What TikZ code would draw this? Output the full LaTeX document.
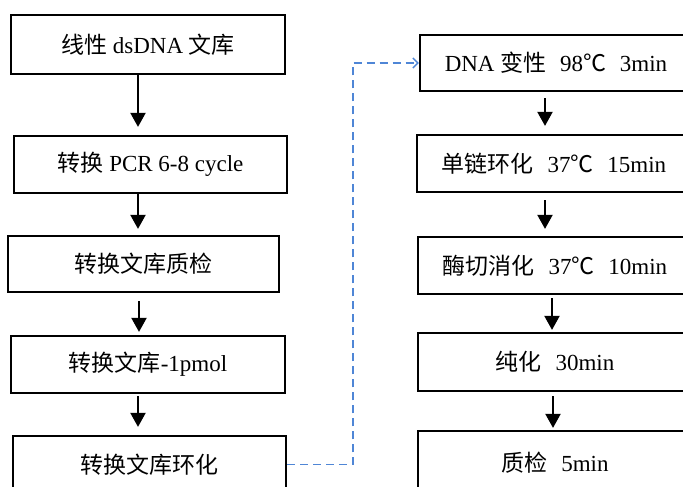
\documentclass[tikz,border=0pt]{standalone}
\usepackage{fontspec}
\setmainfont{Liberation Serif}
\newfontfamily\cjkfont{Noto Sans CJK SC}
\newcommand{\zh}[1]{{\cjkfont #1}}
\usetikzlibrary{arrows.meta}
\definecolor{linkblue}{RGB}{79,134,214}
\tikzset{
  stepbox/.style={draw=black, line width=2.2pt, inner sep=0pt, align=center,
    font=\fontsize{23}{27}\selectfont},
  flow/.style={line width=2pt, -{Triangle[length=14pt,width=15pt]}},
  link/.style={draw=linkblue, line width=1.5pt, dash pattern=on 8pt off 5pt,
    -{Straight Barb[length=5pt,width=10pt]}},
}
\newcommand{\gap}{\hspace{0.6em}}
\begin{document}
\begin{tikzpicture}[x=1pt,y=-1pt]
\useasboundingbox (0,0) rectangle (683,487);
\clip (0,0) rectangle (683,487);

% left column
\node[stepbox, minimum width=274pt, minimum height=59pt] (b1) at (148,44.5)
  {\zh{线性} dsDNA \zh{文库}};
\node[stepbox, minimum width=273pt, minimum height=57pt] (b2) at (150.5,164.5)
  {\zh{转换} PCR 6-8 cycle};
\node[stepbox, minimum width=271pt, minimum height=56pt] (b3) at (143.5,264)
  {\zh{转换文库质检}};
\node[stepbox, minimum width=274pt, minimum height=57pt] (b4) at (148,364.5)
  {\zh{转换文库}-1pmol};
\node[stepbox, minimum width=273pt, minimum height=57pt] (b5) at (149.5,464.5)
  {\zh{转换文库环化}};

% right column
\node[stepbox, minimum width=272pt, minimum height=56pt] (b6) at (556,63)
  {DNA \zh{变性}\gap 98\zh{℃}\gap 3min};
\node[stepbox, minimum width=274pt, minimum height=57pt] (b7) at (554,163.5)
  {\zh{单链环化}\gap 37\zh{℃}\gap 15min};
\node[stepbox, minimum width=274pt, minimum height=57pt] (b8) at (555,265.5)
  {\zh{酶切消化}\gap 37\zh{℃}\gap 10min};
\node[stepbox, minimum width=274pt, minimum height=58pt] (b9) at (555,362)
  {\zh{纯化}\gap 30min};
\node[stepbox, minimum width=274pt, minimum height=64pt] (b10) at (555,463)
  {\zh{质检}\gap 5min};

% arrows of the left column
\draw[flow] ([xshift=-10pt]b1.south) -- ([xshift=-12.5pt,yshift=8pt]b2.north);
\draw[flow] ([xshift=-12.5pt]b2.south) -- ([xshift=-5.5pt,yshift=6pt]b3.north);
\draw[flow] ([xshift=-4.5pt,yshift=-8pt]b3.south) -- ([xshift=-9pt,yshift=3pt]b4.north);
\draw[flow] ([xshift=-10pt,yshift=-2pt]b4.south) -- ([xshift=-11.5pt,yshift=8pt]b5.north);

% arrows of the right column
\draw[flow] ([xshift=-11pt,yshift=-6pt]b6.south) -- ([xshift=-9pt,yshift=8pt]b7.north);
\draw[flow] ([xshift=-9pt,yshift=-7pt]b7.south) -- ([xshift=-10pt,yshift=7pt]b8.north);
\draw[flow] ([xshift=-3pt,yshift=-3pt]b8.south) -- ([xshift=-3pt,yshift=2pt]b9.north);
\draw[flow] ([xshift=-2pt,yshift=-4pt]b9.south) -- ([xshift=-2pt,yshift=2pt]b10.north);

% dashed link from the left column to the right column
\coordinate (bend) at (353,464.5);
\draw[link] (b5.east) -- (bend) |- (b6.west);
\end{tikzpicture}
\end{document}
